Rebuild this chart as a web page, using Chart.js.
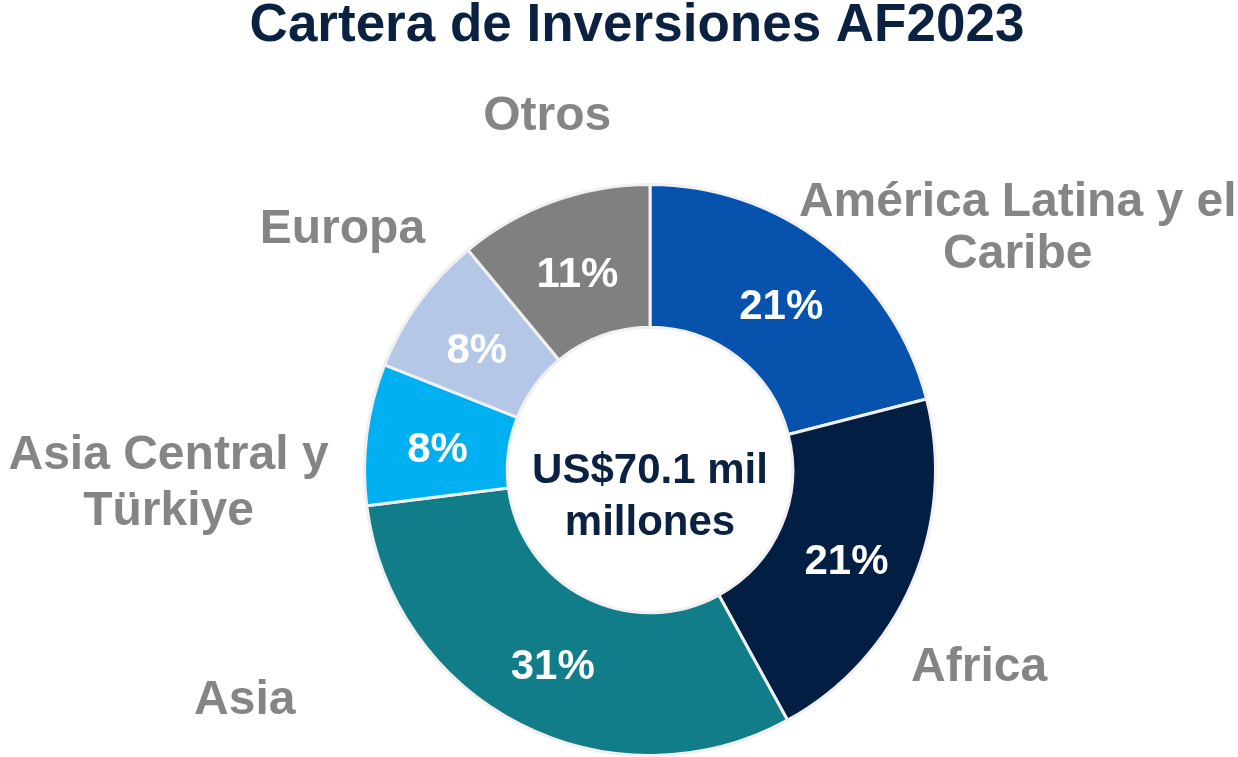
<!DOCTYPE html>
<html>
<head>
<meta charset="utf-8">
<script src="https://cdn.jsdelivr.net/npm/chart.js@4/dist/chart.umd.min.js"></script>
<style>
  html, body { margin: 0; padding: 0; background: #ffffff; }
  #wrap { position: relative; width: 1238px; height: 757px; }
</style>
</head>
<body>
<div id="wrap"><canvas id="c"></canvas></div>
<script>
// ---- data ----
const chartTitle = 'Cartera de Inversiones AF2023';
const categories = [
  ['América Latina y el', 'Caribe'],
  ['Africa'],
  ['Asia'],
  ['Asia Central y', 'Türkiye'],
  ['Europa'],
  ['Otros']
];
const shares = [21, 21, 31, 8, 8, 11];
const centerLines = ['US$70.1 mil', 'millones'];

// ---- styles ----
const sliceColors = ['#0652ad', '#021f43', '#117d88', '#00b0f0', '#b4c7e7', '#808080'];
const FONT = "'Liberation Sans', Arial, Helvetica, sans-serif";
const NAVY = '#0b2142';
const GRAY = '#858585';

// placement of outside labels: polar (degrees clockwise from top, multiple of outer radius)
const labelPlacement = [
  { angle: 56.7, dist: 1.541, lh: 52 },
  { angle: 121.0, dist: 1.345, lh: 54 },
  { angle: 240.3, dist: 1.634, lh: 54 },
  { angle: 268.4, dist: 1.687, lh: 56 },
  { angle: 308.0, dist: 1.367, lh: 54 },
  { angle: 343.8, dist: 1.290, lh: 54 }
];

const textPlugin = {
  id: 'textPlugin',
  afterDatasetsDraw(chart) {
    const ctx = chart.ctx;
    const meta = chart.getDatasetMeta(0);
    const arcs = meta.data;
    if (!arcs.length) return;
    const cx = arcs[0].x, cy = arcs[0].y, R = arcs[0].outerRadius;
    ctx.save();
    ctx.textAlign = 'center';
    ctx.textBaseline = 'middle';

    // title
    ctx.fillStyle = NAVY;
    ctx.font = 'bold 53px ' + FONT;
    ctx.fillText(chartTitle, cx - 13, 26);

    // percentages inside slices
    ctx.fillStyle = '#ffffff';
    ctx.font = 'bold 42px ' + FONT;
    arcs.forEach((arc, i) => {
      const p = arc.getCenterPoint();
      ctx.fillText(shares[i] + '%', p.x, p.y + 7);
    });

    // outside category labels
    ctx.fillStyle = GRAY;
    ctx.font = 'bold 48px ' + FONT;
    categories.forEach((lines, i) => {
      const pl = labelPlacement[i];
      const a = pl.angle * Math.PI / 180;
      const x = cx + Math.sin(a) * R * pl.dist;
      const y = cy - Math.cos(a) * R * pl.dist;
      const y0 = y - (lines.length - 1) * pl.lh / 2;
      lines.forEach((t, j) => ctx.fillText(t, x, y0 + j * pl.lh));
    });

    // center text
    ctx.fillStyle = NAVY;
    ctx.font = 'bold 42px ' + FONT;
    ctx.fillText(centerLines[0], cx, cy + 1);
    ctx.fillText(centerLines[1], cx, cy + 53);
    ctx.restore();
  }
};

new Chart(document.getElementById('c'), {
  type: 'doughnut',
  data: {
    labels: categories,
    datasets: [{
      data: shares,
      backgroundColor: sliceColors,
      borderColor: '#f0f0f0',
      borderWidth: 3,
      hoverOffset: 0
    }]
  },
  options: {
    responsive: true,
    maintainAspectRatio: false,
    animation: false,
    events: [],
    cutout: '50%',
    rotation: 0,
    layout: { padding: { top: 183, left: 62, right: 0, bottom: 0 } },
    plugins: {
      legend: { display: false },
      tooltip: { enabled: false },
      title: { display: false }
    }
  },
  plugins: [textPlugin]
});
</script>
</body>
</html>
